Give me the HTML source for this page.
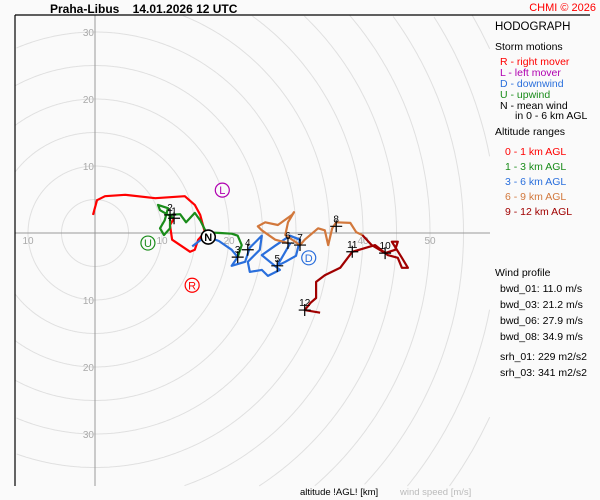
<!DOCTYPE html>
<html><head><meta charset="utf-8"><style>
html,body{margin:0;padding:0;background:#fafafa;width:600px;height:500px;overflow:hidden}
svg{display:block;font-family:"Liberation Sans",sans-serif}
</style></head><body>
<svg id="c" width="600" height="500" viewBox="0 0 600 500">
<rect x="0" y="0" width="600" height="500" fill="#fafafa"/>
<g id="grid"></g>
<line x1="15" y1="15" x2="590" y2="15" stroke="#000" stroke-width="1.2"/>
<line x1="15" y1="15" x2="15" y2="486" stroke="#000" stroke-width="1.2"/>
<g id="plot"></g>
<text x="50" y="13" font-size="12" font-weight="bold" fill="#000">Praha-Libus&#160;&#160;&#160; 14.01.2026 12 UTC</text>
<text x="596" y="11" font-size="11" fill="#f00" text-anchor="end">CHMI © 2026</text>
<g font-size="10.5">
<text x="495" y="30" font-size="11.5" fill="#000">HODOGRAPH</text>
<text x="495" y="50" fill="#000">Storm motions</text>
<text x="500" y="65" fill="#f00">R - right mover</text>
<text x="500" y="76" fill="#b000b0">L - left mover</text>
<text x="500" y="87" fill="#2a6fdc">D - downwind</text>
<text x="500" y="98" fill="#1a8c1a">U - upwind</text>
<text x="500" y="109" fill="#000">N - mean wind</text>
<text x="515" y="119" fill="#000">in 0 - 6 km AGL</text>
<text x="495" y="135" fill="#000">Altitude ranges</text>
<text x="505" y="155" fill="#f00">0 - 1 km AGL</text>
<text x="505" y="170" fill="#1a8c1a">1 - 3 km AGL</text>
<text x="505" y="185" fill="#2a6fdc">3 - 6 km AGL</text>
<text x="505" y="200" fill="#d2783c">6 - 9 km AGL</text>
<text x="505" y="215" fill="#a00000">9 - 12 km AGL</text>
<text x="495" y="276" fill="#000">Wind profile</text>
<text x="500" y="292" fill="#000">bwd_01: 11.0 m/s</text>
<text x="500" y="308" fill="#000">bwd_03: 21.2 m/s</text>
<text x="500" y="324" fill="#000">bwd_06: 27.9 m/s</text>
<text x="500" y="340" fill="#000">bwd_08: 34.9 m/s</text>
<text x="500" y="360" fill="#000">srh_01: 229 m2/s2</text>
<text x="500" y="376" fill="#000">srh_03: 341 m2/s2</text>
</g>
<text x="300" y="495" font-size="9.5" fill="#000">altitude !AGL! [km]</text>
<text x="400" y="495" font-size="9.5" fill="#bbb">wind speed [m/s]</text>
</svg>
<script>
const ringRadii=[5,10,15,20,25,30,35,40,45,50,55,60,65];
const tickValues=[-10,10,20,30,40,50];
const vTickValues=[30,20,10,-10,-20,-30];
const seg01U=[-0.3,0.3,1.5,4.5,9.0,13.4,14.9,15.7,16.4,15.4,14.9,14.2,12.7,11.5,11.2,11.8];
const seg01V=[2.7,4.9,5.5,5.7,5.2,5.5,4.2,2.7,0.1,-1.0,-2.5,-2.8,-1.8,-1.0,1.2,2.2];
const seg13U=[11.8,9.7,9.4,10.9,10.4,9.7,10.3,11.2,11.2,12.7,13.6,14.9,15.7,16.6,18.7,20.4,21.3,21.9,21.3];
const seg13V=[2.2,3.4,4.2,3.7,1.9,0.7,-0.3,0.7,2.7,2.8,1.6,3.0,1.9,0.1,0,-0.1,-0.4,-1.8,-3.6];
const seg36U=[14.5,16.5,18.5,20.4,21.3,20.4,22.4,23.1,24.9,24.6,22.8,23.1,24.9,25.8,27.6,26.1,24.9,26.9,29.1,30.6,30.0,28.4,27.2,28.4,29.1,28.8];
const seg36V=[-2.0,-0.5,-1.2,-2.5,-3.6,-4.9,-4.3,-2.2,-0.4,-2.5,-4.3,-5.8,-5.5,-6.4,-5.5,-4.3,-3.3,-1.9,-0.4,-1.0,-3.4,-4.3,-4.9,-2.8,-1.6,-1.5];
const seg69U=[28.8,26.9,24.9,24.3,25.4,27.3,29.4,29.7,28.8,28.4,30.6,31.3,33.3,34.3,34.8,35.4,36.0,38.1,39.0,39.9];
const seg69V=[-1.5,-1.0,0.4,1.0,1.6,1.2,2.7,3.1,1.6,-0.3,-1.8,-1.0,0.7,0.4,-1.8,0.7,1.6,1.5,0.1,-0.3];
const seg912U=[39.9,41.3,43.3,44.8,45.2,44.3,45.8,46.7,45.8,45.2,43.7,41.8,38.4,36.6,34.3,33.0,33.0,32.2,31.3,33.6];
const seg912V=[-0.3,-1.8,-3.0,-2.5,-1.3,-1.3,-3.7,-5.2,-5.2,-3.7,-3.3,-1.8,-2.8,-5.2,-6.3,-7.3,-9.7,-10.4,-11.5,-11.9];
const markerLabels=["1","2","3","4","5","6","7","8","10","11","12"];
const markerU=[11.8,11.2,21.3,22.8,27.2,28.8,30.6,36.0,43.3,38.4,31.3];
const markerV=[2.2,2.7,-3.6,-2.5,-4.9,-1.5,-1.8,1.0,-3.0,-2.8,-11.5];
const stormLabels=["L","U","N","D","R"];
const stormU=[19.0,7.9,16.9,31.9,14.5];
const stormV=[6.4,-1.5,-0.6,-3.7,-7.8];

const NS='http://www.w3.org/2000/svg';
const OX=95,OY=233,S=6.7;
const X0=15,X1=490,Y0=15,Y1=486;
const xs=u=>OX+u*S, ys=v=>OY-v*S;
function mk(tag,attrs,parent){const e=document.createElementNS(NS,tag);for(const k in attrs)e.setAttribute(k,attrs[k]);parent.appendChild(e);return e;}
const grid=document.getElementById('grid'), plot=document.getElementById('plot');
ringRadii.forEach(r=>{
 let d='',pen=false;
 for(let a=0;a<=720;a++){
  const t=a*Math.PI/360, x=OX+r*S*Math.cos(t), y=OY+r*S*Math.sin(t);
  const inside=x>=X0&&x<=X1&&y>=Y0&&y<=Y1;
  if(inside){d+=(pen?'L':'M')+x.toFixed(1)+' '+y.toFixed(1);pen=true;}else pen=false;
 }
 if(!d)return;
 const c=mk('path',{d:d,fill:'none',stroke:'#e0e0e0','stroke-width':1},grid);
 
 
});
let l=mk('line',{x1:15,y1:OY,x2:490,y2:OY,stroke:'#999','stroke-width':1},grid);


l=mk('line',{x1:OX,y1:15,x2:OX,y2:486,stroke:'#999','stroke-width':1},grid);


tickValues.forEach(t=>{
 const e=mk('text',{x:xs(t),y:OY+11,'font-size':10,fill:'#aaa','text-anchor':'middle'},plot);
 e.textContent=Math.abs(t);
 
 
});
vTickValues.forEach(t=>{
 const e=mk('text',{x:OX-1,y:ys(t)+4,'font-size':10,fill:'#aaa','text-anchor':'end'},plot);
 e.textContent=Math.abs(t);
 
 
});
function seg(U,V,col,name){
 const d=U.map((u,i)=>(i?'L':'M')+xs(u).toFixed(1)+' '+ys(V[i]).toFixed(1)).join(' ');
 const p=mk('path',{d:d,fill:'none',stroke:col,'stroke-width':2.2,'stroke-linejoin':'round'},plot);
 
 
}
seg(seg01U,seg01V,'#f00','hodograph-0-1km');
seg(seg13U,seg13V,'#1a8c1a','hodograph-1-3km');
seg(seg36U,seg36V,'#2a6fdc','hodograph-3-6km');
seg(seg69U,seg69V,'#d2783c','hodograph-6-9km');
seg(seg912U,seg912V,'#a00000','hodograph-9-12km');
markerLabels.forEach((lab,i)=>{
 const x=xs(markerU[i]),y=ys(markerV[i]);
 const g=mk('g',{},plot);
 
 
 mk('path',{d:`M${x-6} ${y}H${x+6}M${x} ${y-6}V${y+6}`,stroke:'#000','stroke-width':1.2},g);
 const t=mk('text',{x:x,y:y-4,'font-size':10,fill:'#000','text-anchor':'middle'},g);
 t.textContent=lab;
});
const stormCols={L:'#b000b0',U:'#1a8c1a',N:'#000',D:'#2a6fdc',R:'#f00'};
stormLabels.forEach((lab,i)=>{
 const x=xs(stormU[i]),y=ys(stormV[i]);
 const g=mk('g',{},plot);
 
 
 mk('circle',{cx:x,cy:y,r:7,fill:lab==='N'?'#fff':'#fafafa',stroke:stormCols[lab],'stroke-width':lab==='N'?1.6:1.2},g);
 const t=mk('text',{x:x,y:y+4,'font-size':11,'font-weight':lab==='N'?'bold':'normal',fill:stormCols[lab],'text-anchor':'middle'},g);
 t.textContent=lab;
});
</script>
</body></html>
